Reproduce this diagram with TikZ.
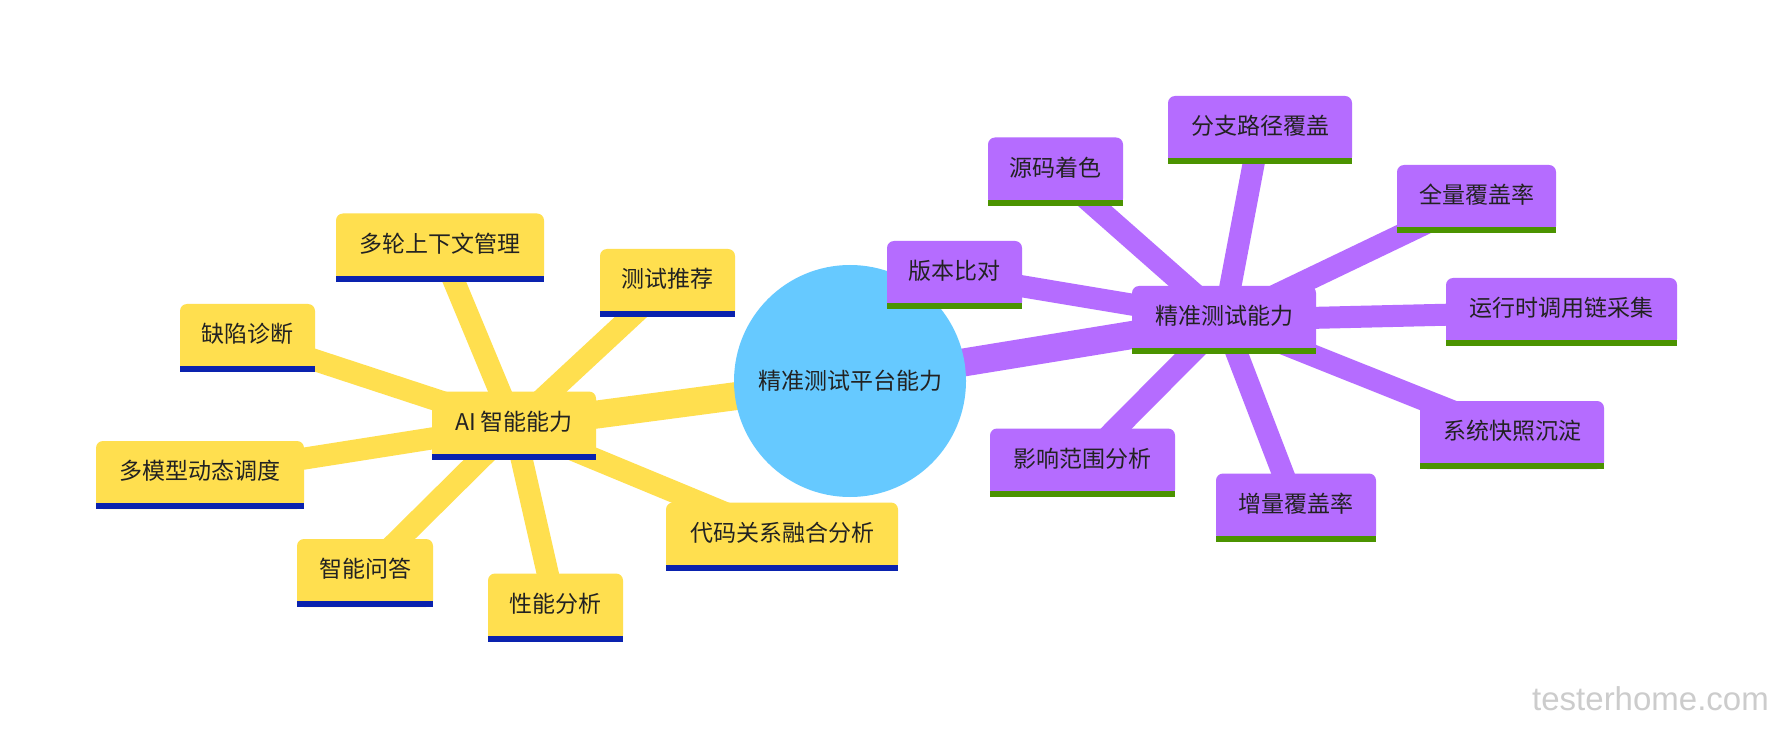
\documentclass[tikz,border=0pt]{standalone}
\usepackage{fontspec}
\setmainfont{Noto Sans CJK SC}
\newfontfamily\wmfont{Liberation Sans}
\definecolor{ayellow}{HTML}{FFDF4F}
\definecolor{abar}{HTML}{0A22AE}
\definecolor{ppurple}{HTML}{B56CFF}
\definecolor{pbar}{HTML}{4B9300}
\definecolor{rootblue}{HTML}{66C9FF}
\definecolor{txt}{HTML}{222222}
\pgfdeclarelayer{edgelayer}
\pgfsetlayers{edgelayer,main}
\begin{document}
\begin{tikzpicture}[x=1pt,y=-1pt,
  box/.style={rectangle, rounded corners=7pt, minimum height=68pt, inner xsep=0pt, inner ysep=0pt,
    text height=20pt, text depth=10.6pt, font=\fontsize{23}{28}\selectfont, text=txt},
  ybox/.style={box, fill=ayellow},
  pbox/.style={box, fill=ppurple},
  rootnode/.style={circle, fill=rootblue, minimum size=232pt, inner sep=0pt,
    text height=20pt, text depth=2.6pt, font=\fontsize{23}{28}\selectfont, text=txt},
  rootyedge/.style={draw=ayellow, line width=28pt},
  rootpedge/.style={draw=ppurple, line width=28pt},
  yedge/.style={draw=ayellow, line width=22pt},
  pedge/.style={draw=ppurple, line width=22pt},
  ybar/.style={fill=abar},
  pbar/.style={fill=pbar},
  wmark/.style={anchor=base west, inner sep=0pt, font=\wmfont\fontsize{33}{40}\selectfont, text=black!20}
]
\useasboundingbox (0,0) rectangle (1773,735);

% root
\node[rootnode] (root) at (850,381) {精准测试平台能力};

% AI branch
\node[ybox, minimum width=164pt] (ai) at (514,425.5) {AI 智能能力};
\node[ybox, minimum width=208pt] (y1) at (440,247.5) {多轮上下文管理};
\node[ybox, minimum width=135pt] (y2) at (667.5,283) {测试推荐};
\node[ybox, minimum width=135pt] (y3) at (247.5,338) {缺陷诊断};
\node[ybox, minimum width=208pt] (y4) at (200,475) {多模型动态调度};
\node[ybox, minimum width=136pt] (y5) at (365,573) {智能问答};
\node[ybox, minimum width=135pt] (y6) at (555.5,607.5) {性能分析};
\node[ybox, minimum width=232pt] (y7) at (782,536.5) {代码关系融合分析};

% precise testing branch
\node[pbox, minimum width=184pt] (pt) at (1224,320) {精准测试能力};
\node[pbox, minimum width=135pt] (p1) at (954.5,275) {版本比对};
\node[pbox, minimum width=135pt] (p2) at (1055.5,171.5) {源码着色};
\node[pbox, minimum width=184pt] (p3) at (1260,130) {分支路径覆盖};
\node[pbox, minimum width=159pt] (p4) at (1476.5,199) {全量覆盖率};
\node[pbox, minimum width=231pt] (p5) at (1561.5,312) {运行时调用链采集};
\node[pbox, minimum width=184pt] (p6) at (1512,435) {系统快照沉淀};
\node[pbox, minimum width=160pt] (p7) at (1296,507.5) {增量覆盖率};
\node[pbox, minimum width=185pt] (p8) at (1082.5,462.5) {影响范围分析};

% bottom bars
\foreach \n in {ai,y1,y2,y3,y4,y5,y6,y7}
  \fill[ybar] ([yshift=6pt]\n.south west) rectangle (\n.south east);
\foreach \n in {pt,p1,p2,p3,p4,p5,p6,p7,p8}
  \fill[pbar] ([yshift=6pt]\n.south west) rectangle (\n.south east);

% watermark
\node[wmark] (wm) at (1532,710) {testerhome.com};

\begin{pgfonlayer}{edgelayer}
  \fill[white] (0,0) rectangle (1773,735);
  \draw[rootyedge] (root.center) -- (ai.center);
  \draw[rootpedge] (root.center) -- (pt.center);
  \foreach \n in {y1,y2,y3,y4,y5,y6,y7}
    \draw[yedge] (ai.center) -- (\n.center);
  \foreach \n in {p1,p2,p3,p4,p5,p6,p7,p8}
    \draw[pedge] (pt.center) -- (\n.center);
\end{pgfonlayer}
\end{tikzpicture}
\end{document}
